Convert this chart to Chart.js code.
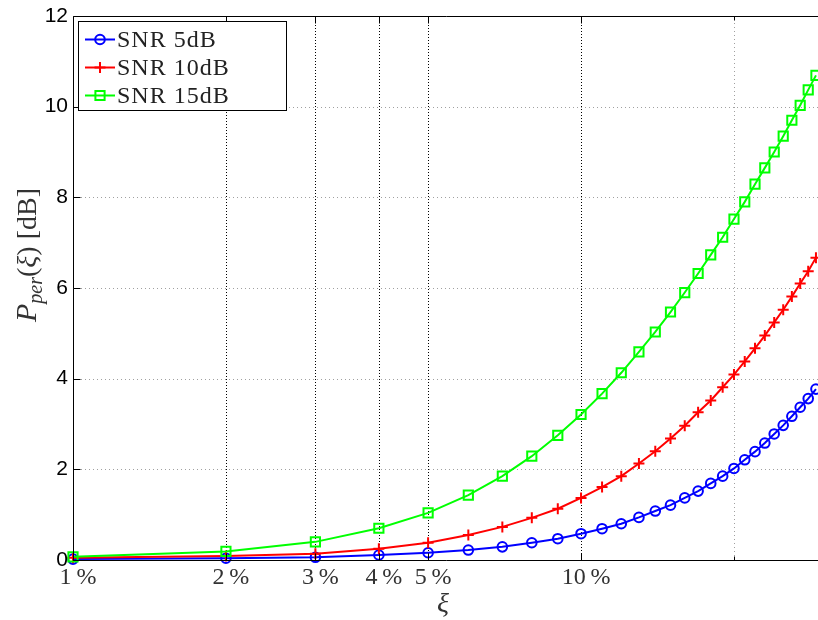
<!DOCTYPE html>
<html>
<head>
<meta charset="utf-8">
<script src="https://cdn.jsdelivr.net/npm/chart.js@4/dist/chart.umd.min.js"></script>
<style>
  html, body { margin: 0; padding: 0; background: #fff; }
  canvas { display: block; }
</style>
</head>
<body>
<canvas id="perChart" width="818" height="620"></canvas>
<script>
// outage threshold in percent, one point per integer step
const xiPct = [1,2,3,4,5,6,7,8,9,10,11,12,13,14,15,16,17,18,19,20,21,22,23,24,25,26,27,28,29];
const snr5 = [0.02,0.04,0.06,0.11,0.16,0.22,0.29,0.38,0.47,0.58,0.69,0.80,0.94,1.08,1.21,1.37,1.52,1.69,1.85,2.02,2.21,2.39,2.58,2.78,2.97,3.17,3.37,3.56,3.77];
const snr10 = [0.05,0.09,0.14,0.25,0.38,0.55,0.73,0.93,1.13,1.37,1.61,1.85,2.13,2.40,2.68,2.96,3.26,3.52,3.81,4.09,4.38,4.67,4.95,5.24,5.52,5.81,6.10,6.37,6.67];
const snr15 = [0.07,0.19,0.40,0.70,1.04,1.43,1.85,2.29,2.75,3.21,3.67,4.13,4.59,5.03,5.47,5.90,6.32,6.73,7.12,7.52,7.90,8.29,8.65,9.00,9.35,9.70,10.03,10.37,10.69];

const xTicks = [0.01, 0.02, 0.03, 0.04, 0.05, 0.1, 0.2];
const xTickLabels = ['1\u2009%', '2\u2009%', '3\u2009%', '4\u2009%', '5\u2009%', '10\u2009%', ''];
const yTicks = [0, 2, 4, 6, 8, 10, 12];
const legendNames = ['SNR 5dB', 'SNR 10dB', 'SNR 15dB'];

const SERIF = '"Liberation Serif", "DejaVu Serif", serif';
const SANS = '"Liberation Sans", Arial, sans-serif';

function pts(ys) {
  return ys.map((y, i) => ({ x: xiPct[i] / 100, y: y }));
}

function near(a, b) { return Math.abs(a - b) < 1e-9; }

// dotted grid under the curves
const gridLines = {
  id: 'gridLines',
  beforeDatasetsDraw(chart) {
    const ctx = chart.ctx;
    const a = chart.chartArea;
    const xs = chart.scales.x, ys = chart.scales.y;
    ctx.save();
    ctx.lineWidth = 1;
    ctx.setLineDash([1, 3]);
    ctx.strokeStyle = '#a0a0a0';
    ctx.beginPath();
    yTicks.forEach(v => {
      if (v === 0 || v === 12) return;
      const py = Math.round(ys.getPixelForValue(v)) + 0.5;
      ctx.moveTo(a.left, py); ctx.lineTo(a.right + 2, py);
    });
    ctx.stroke();
    xTicks.forEach((v, i) => {
      if (near(v, 0.01)) return;
      const px = Math.round(xs.getPixelForValue(v)) + 0.5;
      ctx.strokeStyle = xTickLabels[i] ? '#000' : '#a0a0a0';
      ctx.setLineDash(xTickLabels[i] ? [1, 2] : [1, 3]);
      ctx.beginPath();
      ctx.moveTo(px, a.bottom); ctx.lineTo(px, a.top);
      ctx.stroke();
    });
    ctx.restore();
  }
};

// axes box, inner ticks, axis titles and legend
const decor = {
  id: 'decor',
  afterDatasetsDraw(chart) {
    const ctx = chart.ctx;
    const a = chart.chartArea;
    const xs = chart.scales.x, ys = chart.scales.y;
    const L = Math.round(a.left) + 0.5, B = Math.round(a.bottom) + 0.5, T = Math.round(a.top) + 0.5;
    ctx.save();
    ctx.strokeStyle = '#000';
    ctx.lineWidth = 1;
    ctx.beginPath();
    ctx.moveTo(L, T); ctx.lineTo(L, B); ctx.lineTo(a.right + 2, B);
    ctx.moveTo(L, T); ctx.lineTo(a.right + 2, T);
    yTicks.forEach(v => {
      const py = Math.round(ys.getPixelForValue(v)) + 0.5;
      ctx.moveTo(L, py); ctx.lineTo(L + 7, py);
    });
    xTicks.forEach((v, i) => {
      const px = Math.round(xs.getPixelForValue(v)) + 0.5;
      const len = xTickLabels[i] ? 7 : 4;
      ctx.moveTo(px, B); ctx.lineTo(px, B - len);
      ctx.moveTo(px, T); ctx.lineTo(px, T + len);
    });
    ctx.stroke();
    ctx.restore();
  },
  afterDraw(chart) {
    const ctx = chart.ctx;
    ctx.save();

    // x axis title
    ctx.fillStyle = '#333';
    ctx.font = 'italic 28px ' + SERIF;
    ctx.textAlign = 'center';
    ctx.textBaseline = 'alphabetic';
    ctx.fillText('\u03BE', 443, 612);

    // y axis title with subscript
    const parts = [
      { t: 'P', f: 'italic 30px ' + SERIF, dy: 0 },
      { t: 'per', f: 'italic 20px ' + SERIF, dy: 6 },
      { t: '(', f: '28px ' + SERIF, dy: 0 },
      { t: '\u03BE', f: 'italic 28px ' + SERIF, dy: 0 },
      { t: ')', f: '28px ' + SERIF, dy: 0 },
      { t: ' [dB]', f: '28px ' + SERIF, dy: 0 }
    ];
    let total = 0;
    parts.forEach(p => { ctx.font = p.f; p.w = ctx.measureText(p.t).width; total += p.w; });
    ctx.translate(36, 255);
    ctx.rotate(-Math.PI / 2);
    ctx.textAlign = 'left';
    let cx = -total / 2;
    parts.forEach(p => {
      ctx.font = p.f;
      ctx.fillText(p.t, cx, p.dy);
      cx += p.w;
    });
    ctx.setTransform(1, 0, 0, 1, 0, 0);

    // legend box
    const bx = 78.5, by = 21.5, bw = 208, bh = 89;
    ctx.fillStyle = '#fff';
    ctx.fillRect(bx, by, bw, bh);
    ctx.strokeStyle = '#000';
    ctx.lineWidth = 1;
    ctx.strokeRect(bx, by, bw, bh);
    const rows = [39.5, 67.5, 95.5];
    chart.data.datasets.forEach((ds, i) => {
      const y = rows[i];
      ctx.strokeStyle = ds.borderColor;
      ctx.fillStyle = 'rgba(0,0,0,0)';
      ctx.lineWidth = 2;
      ctx.beginPath();
      ctx.moveTo(85, y); ctx.lineTo(115, y);
      ctx.stroke();
      Chart.helpers.drawPoint(ctx, {
        pointStyle: ds.pointStyle, radius: ds.pointRadius, rotation: 0, borderWidth: ds.pointBorderWidth
      }, 100, y);
      ctx.fillStyle = '#222';
      ctx.font = '24px ' + SERIF;
      ctx.letterSpacing = '1px';
      ctx.textAlign = 'left';
      ctx.textBaseline = 'middle';
      ctx.fillText(legendNames[i], 117, y + 1);
      ctx.letterSpacing = '0px';
    });
    ctx.restore();
  }
};

function series(label, ys, color, style, radius, order) {
  return {
    label: label,
    data: pts(ys),
    borderColor: color,
    backgroundColor: 'rgba(0,0,0,0)',
    pointBackgroundColor: 'rgba(0,0,0,0)',
    pointBorderColor: color,
    borderWidth: 2,
    pointBorderWidth: 2,
    pointStyle: style,
    pointRadius: radius,
    tension: 0,
    clip: false,
    order: order
  };
}

new Chart(document.getElementById('perChart'), {
  type: 'line',
  data: {
    datasets: [
      series(legendNames[0], snr5, '#0000ff', 'circle', 4.8, 2),
      series(legendNames[1], snr10, '#ff0000', 'cross', 5.5, 1),
      series(legendNames[2], snr15, '#00ff00', 'rect', 6.5, 0)
    ]
  },
  options: {
    responsive: false,
    animation: false,
    layout: { autoPadding: false, padding: { top: 16, right: 0, bottom: 0, left: 0 } },
    plugins: { legend: { display: false }, tooltip: { enabled: false } },
    scales: {
      x: {
        type: 'logarithmic',
        bounds: 'data',
        min: 0.01,
        max: 0.2927,
        afterBuildTicks: s => { s.ticks = xTicks.map(v => ({ value: v })); },
        afterFit: s => { s.height = 60; s.paddingLeft = 0; s.paddingRight = 0; },
        ticks: {
          autoSkip: false,
          maxRotation: 0,
          padding: 3,
          labelOffset: 5,
          color: '#333',
          font: { family: SERIF, size: 24 },
          callback: v => {
            const i = xTicks.findIndex(t => near(t, v));
            return i >= 0 ? xTickLabels[i] : '';
          }
        },
        grid: { display: false, drawTicks: false },
        border: { display: false }
      },
      y: {
        min: 0,
        max: 12,
        afterBuildTicks: s => { s.ticks = yTicks.map(v => ({ value: v })); },
        afterFit: s => { s.width = 73; s.paddingTop = 0; s.paddingBottom = 0; },
        ticks: {
          padding: 5,
          color: '#000',
          font: { family: SANS, size: 21 }
        },
        grid: { display: false, drawTicks: false },
        border: { display: false }
      }
    }
  },
  plugins: [gridLines, decor]
});
</script>
</body>
</html>
